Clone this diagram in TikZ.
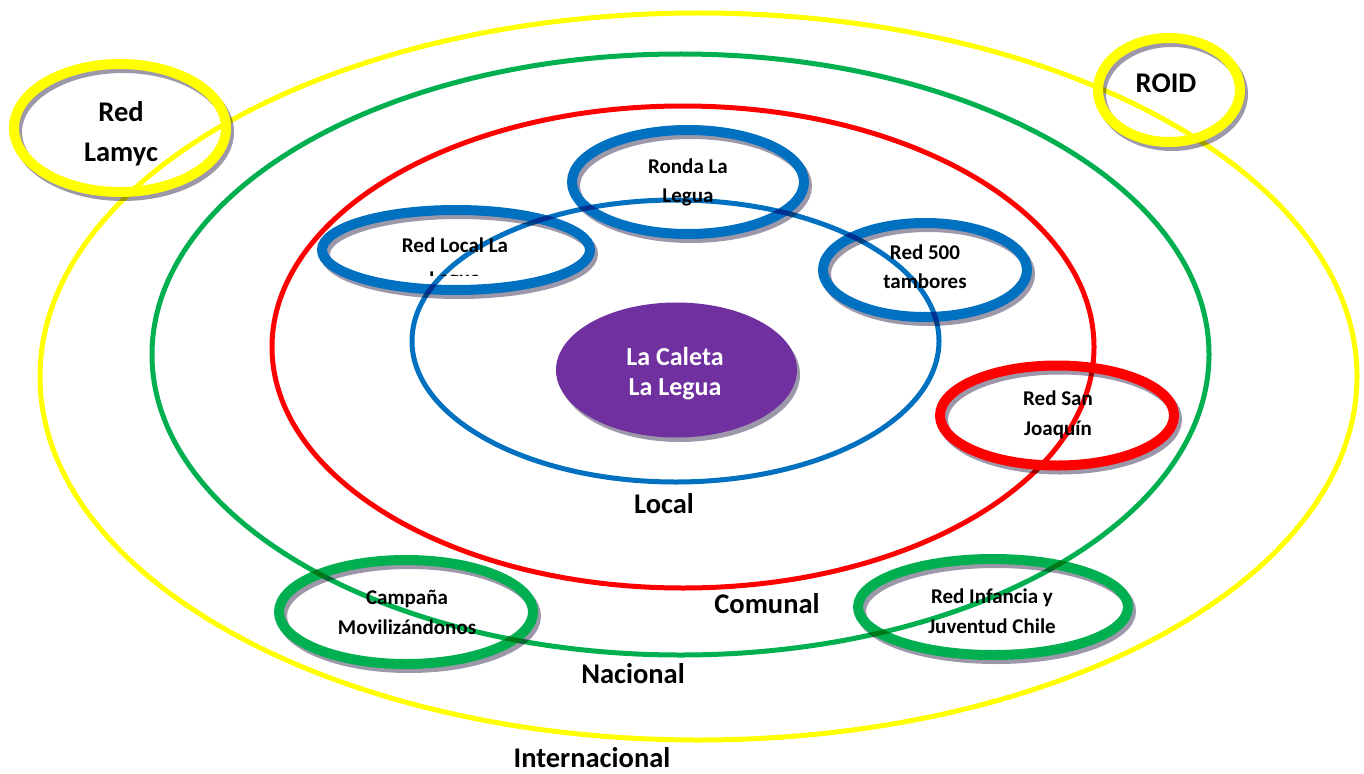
\documentclass[tikz,border=0pt]{standalone}
\usepackage{fontspec}
\setmainfont{Carlito}
\definecolor{cyel}{HTML}{FFFF00}
\definecolor{cgrn}{HTML}{00B050}
\definecolor{cred}{HTML}{FF0000}
\definecolor{cblu}{HTML}{0070C0}
\definecolor{cpur}{HTML}{7030A0}
\definecolor{cshd}{HTML}{9D97AA}
\begin{document}
\begin{tikzpicture}[x=1pt,y=-1pt,
  bigring/.style={line width=5pt},
  smallring/.style={line width=10pt},
  shadowring/.style={line width=10pt, draw=cshd},
  lbl/.style={font=\fontsize{21}{29.5}\selectfont\bfseries, align=center, inner sep=0pt},
  levellbl/.style={font=\fontsize{28.5}{35}\selectfont\bfseries, inner sep=0pt, anchor=base},
  bigname/.style={font=\fontsize{28.5}{39.7}\selectfont\bfseries, align=center, inner sep=0pt}]
\useasboundingbox (0,0) rectangle (1364,773);

% shadows of the small rings
\draw[shadowring] (123,132) ellipse [x radius=106pt, y radius=64pt];
\draw[shadowring] (1172,94) ellipse [x radius=71pt, y radius=52pt];
\draw[shadowring] (691,186) ellipse [x radius=116pt, y radius=52pt];
\draw[shadowring] (459,254) ellipse [x radius=134pt, y radius=40pt];
\draw[shadowring] (928,274) ellipse [x radius=102pt, y radius=47pt];
\draw[shadowring] (1060,419.5) ellipse [x radius=117pt, y radius=50pt];
\draw[shadowring] (409,616) ellipse [x radius=127pt, y radius=52pt];
\draw[shadowring] (996,611) ellipse [x radius=135pt, y radius=48pt];

% small rings
\draw[smallring, cyel] (120,128) ellipse [x radius=106pt, y radius=64pt];
\draw[smallring, cyel] (1169,90) ellipse [x radius=71pt, y radius=52pt];
\draw[smallring, cblu] (688,182) ellipse [x radius=116pt, y radius=52pt];
\draw[smallring, cblu] (456,250) ellipse [x radius=134pt, y radius=40pt];
\draw[smallring, cblu] (925,270) ellipse [x radius=102pt, y radius=47pt];
\draw[smallring, cred] (1057,415.5) ellipse [x radius=117pt, y radius=50pt];
\draw[smallring, cgrn] (406,612) ellipse [x radius=127pt, y radius=52pt];
\draw[smallring, cgrn] (993,607) ellipse [x radius=135pt, y radius=48pt];

% centre
\fill[cshd] (679.5,374.5) ellipse [x radius=120.5pt, y radius=67.5pt];
\fill[cpur] (676.5,370) ellipse [x radius=120.5pt, y radius=67.5pt];

% level rings
\begin{scope}[blend mode=multiply]
\draw[bigring, cyel] (698.5,376.5) ellipse [x radius=658.5pt, y radius=363.5pt];
\draw[bigring, cgrn] (680.5,354.5) ellipse [x radius=528.5pt, y radius=300.5pt];
\draw[bigring, cred] (683,347) ellipse [x radius=411pt, y radius=241pt];
\draw[bigring, cblu] (675.5,341) ellipse [x radius=263.5pt, y radius=141pt];
\end{scope}

% texts
\node[bigname, font=\fontsize{26}{29.5}\selectfont\bfseries, text=white] (caleta) at (675,373.5) {La Caleta\\La Legua};
\node[bigname] (lamyc) at (121,134) {Red\\Lamyc};
\node[levellbl] (roid) at (1166,93) {ROID};
\node[lbl] (ronda) at (688,182.5) {Ronda La\\Legua};
\node[lbl, anchor=base] (redlocal) at (455,252) {Red Local La};
\begin{scope}
\clip (300,200) rectangle (620,275);
\node[lbl, anchor=base] (redlocal2) at (455,285) {Legua};
\end{scope}
\node[lbl] (red500) at (925,266.5) {Red 500\\tambores};
\node[lbl] (sanjoaquin) at (1058,415) {Red San\\Joaquín};
\node[lbl] (campana) at (407,612.5) {Campaña\\Movilizándonos};
\node[lbl] (infancia) at (992,611) {Red Infancia y\\Juventud Chile};

\node[levellbl] (local) at (664,513) {Local};
\node[levellbl] (comunal) at (767,613) {Comunal};
\node[levellbl] (nacional) at (633,683) {Nacional};
\node[levellbl] (internacional) at (592,767) {Internacional};
\end{tikzpicture}
\end{document}
